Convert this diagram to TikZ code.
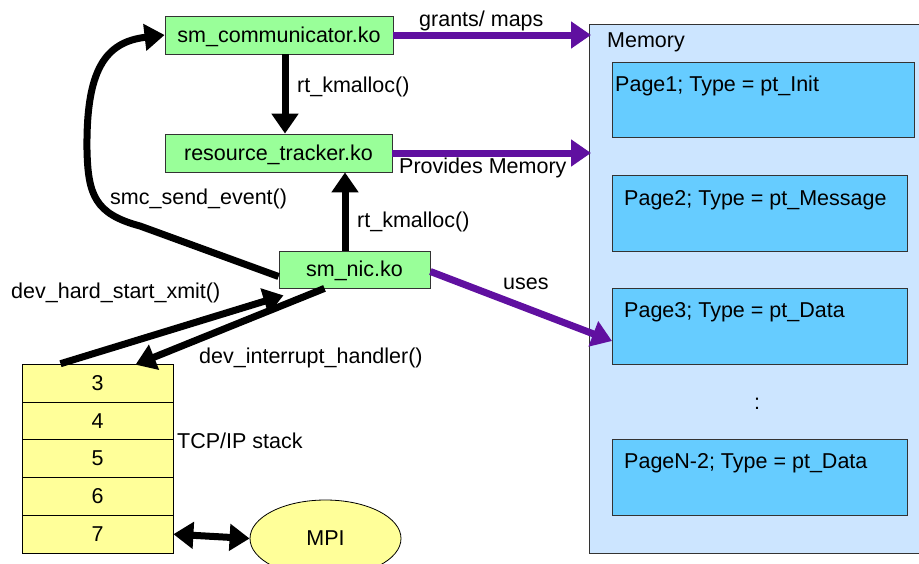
\documentclass[tikz,border=0pt]{standalone}
\usepackage{fontspec}
\setmainfont{Liberation Sans}
\usetikzlibrary{arrows.meta,shapes.geometric}
\definecolor{modgreen}{RGB}{153,255,153}
\definecolor{stackyellow}{RGB}{255,255,153}
\definecolor{memblue}{RGB}{204,229,255}
\definecolor{pageblue}{RGB}{102,204,255}
\definecolor{arrpurple}{RGB}{96,16,160}
\begin{document}
\begin{tikzpicture}[x=1pt,y=-1pt,
  every node/.style={font=\fontsize{21.5}{24}\selectfont, text height=19pt, text depth=4.5pt, inner sep=0pt},
  modbox/.style={draw=black!80, line width=0.8pt, fill=modgreen, minimum height=38pt},
  layerbox/.style={draw=black, line width=0.8pt, fill=stackyellow, minimum width=151pt, minimum height=37.8pt},
  pagebox/.style={draw=black!80, line width=0.8pt, fill=pageblue},
  lbl/.style={anchor=west},
  blackarrow/.style={draw=black, line width=7pt, -{Triangle[width=26pt,length=20pt]}},
  purplearrow/.style={draw=arrpurple, line width=7pt, -{Triangle[width=26pt,length=20pt]}},
  bothways/.style={draw=black, line width=7pt, {Triangle[width=26pt,length=20pt]}-{Triangle[width=26pt,length=20pt]}}
]
\useasboundingbox (0,0) rectangle (919,563);
\clip (0,0) rectangle (919,563);

% Memory
\draw[draw=black!80, line width=0.8pt, fill=memblue] (589,24) rectangle (930,553);
\node[lbl] (memlbl) at (607,40) {Memory};
\draw[pagebox] (612,62) rectangle (914,137);
\node[lbl] (p1) at (615,84) {Page1; Type = pt\_Init};
\draw[pagebox] (612,175) rectangle (907,251);
\node[lbl] (p2) at (624,198) {Page2; Type = pt\_Message};
\draw[pagebox] (612,288) rectangle (907,364);
\node[lbl] (p3) at (624,310) {Page3; Type = pt\_Data};
\node (dots) at (757,402) {:};
\draw[pagebox] (612,439) rectangle (907,515);
\node[lbl] (pn) at (624,461) {PageN-2; Type = pt\_Data};
\coordinate (memA) at (591,35);
\coordinate (memB) at (591,153);
\coordinate (memC) at (612,341);

% modules
\node[modbox, minimum width=228pt] (comm) at (279,35) {sm\_communicator.ko};
\node[modbox, minimum width=227pt] (rt) at (278.5,153) {resource\_tracker.ko};
\node[modbox, minimum width=151pt, minimum height=37pt] (nic) at (354.5,269.5) {sm\_nic.ko};

% stack
\node[layerbox] (l3) at (97.5,383) {3};
\node[layerbox] (l4) at (97.5,420.8) {4};
\node[layerbox] (l5) at (97.5,458.6) {5};
\node[layerbox] (l6) at (97.5,496.4) {6};
\node[layerbox] (l7) at (97.5,534.2) {7};
\node[lbl] (tcp) at (177,441) {TCP/IP stack};
\node[ellipse, draw=black, line width=0.8pt, fill=stackyellow, minimum width=151pt, minimum height=77pt] (mpi) at (325.5,538.5) {MPI};

% arrows
\draw[blackarrow] (comm.south -| 285,0) -- (rt.north -| 285,0);
\node[lbl] (rk1) at (297,85) {rt\_kmalloc()};
\draw[blackarrow] (nic.north -| 345,0) -- (rt.south -| 345,0);
\node[lbl] (rk2) at (357,220) {rt\_kmalloc()};

\draw[purplearrow] (comm.east) -- (memA);
\node[lbl] (gm) at (419,19) {grants/ maps};
\draw[purplearrow] (rt.east) -- (memB);
\node[lbl] (pm) at (399,166) {Provides Memory};
\draw[purplearrow] ([yshift=-2pt]nic.east) -- (memC);
\node[lbl] (uses) at (503,282) {uses};

\draw[blackarrow] ([yshift=-7pt]nic.west) -- (140,226) .. controls (95,214) and (88,195) .. (87,150) .. controls (86,70) and (105,42) .. (comm.west);
\node[lbl] (sse) at (110,197) {smc\_send\_event()};

\draw[blackarrow] ([xshift=-37pt]l3.north) -- ([xshift=-71pt,yshift=-7pt]nic.south);
\node[lbl] (dh) at (11,291) {dev\_hard\_start\_xmit()};
\draw[blackarrow] ([xshift=-30pt]nic.south) -- ([xshift=38pt,yshift=-1pt]l3.north);
\node[lbl] (di) at (199,356) {dev\_interrupt\_handler()};

\draw[bothways] (l7.east) -- (mpi.west);
\end{tikzpicture}
\end{document}
